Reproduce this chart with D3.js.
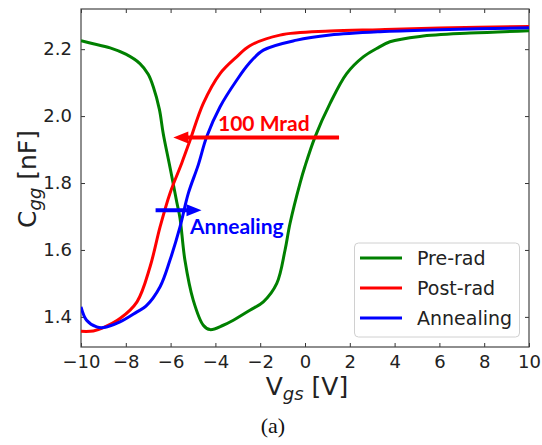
<!DOCTYPE html>
<html>
<head>
<meta charset="utf-8">
<script src="https://cdn.jsdelivr.net/npm/d3@7"></script>
<style>
  body { margin: 0; background: #fff; }
  svg { display: block; }
</style>
</head>
<body>
<svg id="chart" width="542" height="445"></svg>
<script>
// C-V curves
var preRadX  = [-10, -9.5, -8.7, -8.0, -7.37, -7.0, -6.77, -6.5, -6.33, -6.03, -5.73, -5.58, -5.36, -4.99, -4.54, -4.24, -3.65, -3.2, -2.46, -1.86, -1.26, -0.89, -0.67, -0.22, 0.0, 0.45, 1.12, 1.86, 2.6, 3.2, 3.79, 5.13, 7.37, 10];
var preRadY  = [2.225, 2.217, 2.204, 2.185, 2.157, 2.125, 2.087, 2.02, 1.948, 1.848, 1.745, 1.695, 1.569, 1.45, 1.375, 1.362, 1.375, 1.39, 1.42, 1.445, 1.50, 1.60, 1.679, 1.80, 1.85, 1.938, 2.038, 2.127, 2.177, 2.202, 2.222, 2.238, 2.248, 2.255];

var postRadX = [-10, -9.45, -9.0, -8.26, -7.5, -6.92, -6.47, -6.03, -5.5, -5.13, -4.54, -3.79, -3.05, -2.46, -1.12, 1.12, 3.35, 6, 10];
var postRadY = [1.357, 1.358, 1.368, 1.395, 1.445, 1.549, 1.669, 1.769, 1.86, 1.928, 2.038, 2.127, 2.177, 2.21, 2.242, 2.254, 2.258, 2.263, 2.268];

var annealX  = [-10, -9.75, -9.3, -9.0, -8.26, -7.5, -7.1, -6.47, -6.03, -5.58, -5.21, -4.76, -4.39, -3.79, -3.05, -2.5, -1.86, -0.37, 1.12, 3.35, 6, 10];
var annealY  = [1.43, 1.39, 1.37, 1.368, 1.385, 1.415, 1.432, 1.49, 1.569, 1.669, 1.769, 1.855, 1.938, 2.028, 2.107, 2.157, 2.197, 2.227, 2.242, 2.252, 2.258, 2.264];

var seriesNames  = ["Pre-rad", "Post-rad", "Annealing"];
var seriesColors = ["#008000", "#ff0000", "#0000ff"];

var xTicks = [-10, -8, -6, -4, -2, 0, 2, 4, 6, 8, 10];
var yTicks = [1.4, 1.6, 1.8, 2.0, 2.2];

var svg = d3.select("#chart");
var padL = 81, padR = 529, padT = 9, padB = 347;

var x = d3.scaleLinear().domain([-10, 10]).range([padL, padR]);
var y = d3.scaleLinear().domain([1.31, 2.32]).range([padB, padT]);

var fmtY = d3.format(".1f");
var fmtX = function(d) { return d < 0 ? "\u2212" + Math.abs(d) : "" + d; };

// axes, ticks inside on all four sides
function styleAxis(g) {
  g.select(".domain").remove();
  g.selectAll("line").attr("stroke", "#333").attr("stroke-width", 1);
  g.selectAll("text").attr("fill", "#222")
    .style("font-family", "DejaVu Sans").style("font-size", "18px");
}
svg.append("g").attr("transform", "translate(0," + padB + ")")
  .call(d3.axisBottom(x).tickValues(xTicks).tickFormat(fmtX).tickSizeInner(-4).tickPadding(8))
  .call(styleAxis);
svg.append("g").attr("transform", "translate(" + padL + ",0)")
  .call(d3.axisLeft(y).tickValues(yTicks).tickFormat(fmtY).tickSizeInner(-4).tickPadding(9))
  .call(styleAxis);
svg.append("g").attr("transform", "translate(0," + padT + ")")
  .call(d3.axisTop(x).tickValues(xTicks).tickFormat("").tickSizeInner(-4))
  .call(styleAxis);
svg.append("g").attr("transform", "translate(" + padR + ",0)")
  .call(d3.axisRight(y).tickValues(yTicks).tickFormat("").tickSizeInner(-4))
  .call(styleAxis);

svg.append("rect")
  .attr("x", padL).attr("y", padT)
  .attr("width", padR - padL).attr("height", padB - padT)
  .attr("fill", "none").attr("stroke", "#444").attr("stroke-width", 1.2);

// curves
var line = d3.line()
  .x(function(d) { return x(d[0]); })
  .y(function(d) { return y(d[1]); })
  .curve(d3.curveCatmullRom.alpha(0.5));

var allSeries = [d3.zip(preRadX, preRadY), d3.zip(postRadX, postRadY), d3.zip(annealX, annealY)];
svg.append("defs").append("clipPath").attr("id", "clip")
  .append("rect").attr("x", padL).attr("y", padT).attr("width", padR - padL).attr("height", padB - padT);

svg.append("g").attr("clip-path", "url(#clip)")
  .selectAll("path").data(allSeries).enter().append("path")
  .attr("d", line)
  .attr("fill", "none")
  .attr("stroke", function(d, i) { return seriesColors[i]; })
  .attr("stroke-width", 3);

// annotation arrows
function arrow(x0, x1, yv, color) {
  var py = y(yv), tip = x(x1), dir = x1 < x0 ? 1 : -1;
  svg.append("line")
    .attr("x1", x(x0)).attr("x2", tip + dir * 8)
    .attr("y1", py).attr("y2", py)
    .attr("stroke", color).attr("stroke-width", 4);
  svg.append("path")
    .attr("d", "M" + tip + "," + py + "L" + (tip + dir * 15) + "," + (py - 6) + "L" + (tip + dir * 15) + "," + (py + 6) + "Z")
    .attr("fill", color);
}
arrow(1.52, -5.88, 1.936, "#ff0000");
arrow(-6.67, -4.62, 1.719, "#0000ff");

svg.append("text").attr("x", 218).attr("y", 131)
  .text("100 Mrad").attr("fill", "#ff0000")
  .style("font-family", "Lato").style("font-weight", "bold").style("font-size", "21px");
svg.append("text").attr("x", 190).attr("y", 234)
  .text("Annealing").attr("fill", "#0000ff")
  .style("font-family", "Lato").style("font-weight", "bold").style("font-size", "21px");

// legend
var lg = svg.append("g");
lg.append("rect").attr("x", 354.5).attr("y", 243).attr("width", 165).attr("height", 94)
  .attr("rx", 4).attr("fill", "#fff").attr("fill-opacity", 0.85)
  .attr("stroke", "#d0d0d0").attr("stroke-width", 1);
seriesNames.forEach(function(name, i) {
  var ly = 258 + i * 30;
  lg.append("line").attr("x1", 360).attr("x2", 402).attr("y1", ly).attr("y2", ly)
    .attr("stroke", seriesColors[i]).attr("stroke-width", 3);
  lg.append("text").attr("x", 417).attr("y", ly + 7).text(name)
    .attr("fill", "#222").style("font-family", "DejaVu Sans").style("font-size", "19px");
});

// axis labels
var xl = svg.append("text").attr("x", 307).attr("y", 395).attr("text-anchor", "middle")
  .attr("fill", "#222").style("font-family", "DejaVu Sans").style("font-size", "25px");
xl.append("tspan").text("V");
xl.append("tspan").text("gs").attr("dy", 5).style("font-style", "italic").style("font-size", "18px");
xl.append("tspan").text(" [V]").attr("dy", -5);

var yl = svg.append("text").attr("transform", "translate(36,179) rotate(-90)").attr("text-anchor", "middle")
  .attr("fill", "#222").style("font-family", "DejaVu Sans").style("font-size", "25px");
yl.append("tspan").text("C");
yl.append("tspan").text("gg").attr("dy", 5).style("font-style", "italic").style("font-size", "18px");
yl.append("tspan").text(" [nF]").attr("dy", -5);

svg.append("text").attr("x", 273).attr("y", 433).attr("text-anchor", "middle")
  .text("(a)").attr("fill", "#111")
  .style("font-family", "Liberation Serif").style("font-size", "22px");
</script>
</body>
</html>
